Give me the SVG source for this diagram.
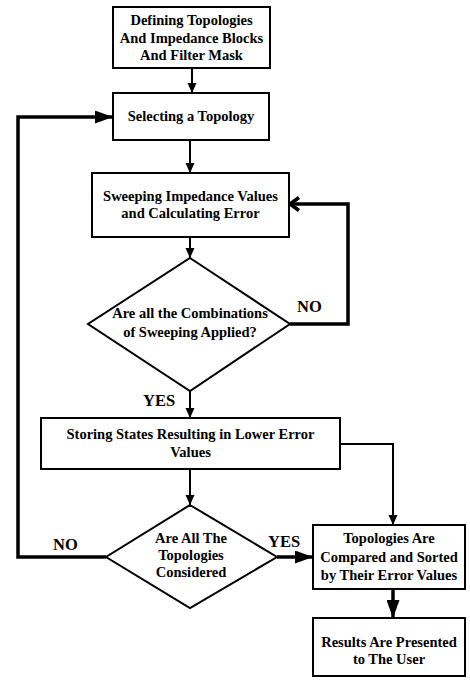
<svg xmlns="http://www.w3.org/2000/svg" width="470" height="680" viewBox="0 0 470 680">
<style>
.box{fill:#fff;stroke:#000;stroke-width:2}
.t{font-family:'Liberation Serif','Times New Roman',Times,serif;font-weight:bold;font-size:14.5px;text-anchor:middle;fill:#000}
.lbl{font-family:'Liberation Serif','Times New Roman',Times,serif;font-weight:bold;font-size:16.5px;fill:#000}
.c{fill:none;stroke:#000;stroke-width:2}
.ck{fill:none;stroke:#000;stroke-width:3.5}
</style>
<defs>
<marker id="a" markerUnits="userSpaceOnUse" markerWidth="10" markerHeight="10" refX="10" refY="4.5" orient="auto"><path d="M0,0 L10,4.5 L0,9 z" fill="#000"/></marker>
<marker id="ak" markerUnits="userSpaceOnUse" markerWidth="18" markerHeight="13" refX="18" refY="6.5" orient="auto"><path d="M0,0 L18,6.5 L0,13 z" fill="#000"/></marker>
<marker id="ch" markerUnits="userSpaceOnUse" markerWidth="14" markerHeight="16" refX="11" refY="8" orient="auto"><path d="M2,1.5 L11,8 L2,14.5" fill="none" stroke="#000" stroke-width="3.5"/></marker>
</defs>
<g id="connectors">
<line class="c" x1="192" y1="68" x2="192" y2="93" marker-end="url(#a)"/>
<line class="c" x1="190" y1="140" x2="190" y2="173" marker-end="url(#a)"/>
<line class="c" x1="190" y1="237" x2="190" y2="258" marker-end="url(#a)"/>
<polyline class="ck" points="290,324 348,324 348,204 290,204" marker-end="url(#ch)"/>
<line class="c" x1="190" y1="391" x2="190" y2="418" marker-end="url(#a)"/>
<line class="c" x1="190" y1="469" x2="190" y2="505" marker-end="url(#a)"/>
<polyline class="c" points="340,444 393,444 393,525" marker-end="url(#a)"/>
<polyline class="ck" points="106,557 18,557 18,117 113,117" marker-end="url(#ak)"/>
<line class="ck" x1="277" y1="557" x2="313" y2="557" marker-end="url(#ak)"/>
<line class="ck" x1="393" y1="589" x2="393" y2="618" marker-end="url(#ak)"/>
<text class="lbl" x="297" y="312" font-family="Liberation Serif">NO</text>
<text class="lbl" x="143" y="406" font-family="Liberation Serif">YES</text>
<text class="lbl" x="53" y="550" font-family="Liberation Serif">NO</text>
<text class="lbl" x="268" y="547" font-family="Liberation Serif">YES</text>
</g>
<g id="n1"><rect class="box" x="113" y="7" width="157" height="61"/>
<text class="t" x="191.5" y="25">Defining Topologies</text>
<text class="t" x="191.5" y="43">And Impedance Blocks</text>
<text class="t" x="191.5" y="60">And Filter Mask</text></g>
<g id="n2"><rect class="box" x="113" y="93" width="156" height="47"/>
<text class="t" x="191" y="121">Selecting a Topology</text></g>
<g id="n3"><rect class="box" x="92" y="173" width="197" height="64"/>
<text class="t" x="190.5" y="201">Sweeping Impedance Values</text>
<text class="t" x="190.5" y="218">and Calculating Error</text></g>
<g id="n4"><polygon class="box" points="190,258 290,324 190,391 88,324"/>
<text class="t" x="190" y="318">Are all the Combinations</text>
<text class="t" x="190" y="337">of Sweeping Applied?</text></g>
<g id="n5"><rect class="box" x="41" y="418" width="299" height="51"/>
<text class="t" x="190.5" y="439">Storing States Resulting in Lower Error</text>
<text class="t" x="190.5" y="457">Values</text></g>
<g id="n6"><polygon class="box" points="190,505 277,557 190,608 106,557"/>
<text class="t" x="191" y="543">Are All The</text>
<text class="t" x="191" y="560">Topologies</text>
<text class="t" x="191" y="577">Considered</text></g>
<g id="n7"><rect class="box" x="313" y="525" width="152" height="64"/>
<text class="t" x="389" y="543">Topologies Are</text>
<text class="t" x="389" y="562">Compared and Sorted</text>
<text class="t" x="389" y="580">by Their Error Values</text></g>
<g id="n8"><rect class="box" x="313" y="618" width="152" height="58"/>
<text class="t" x="389" y="647">Results Are Presented</text>
<text class="t" x="389" y="664">to The User</text></g>
</svg>
